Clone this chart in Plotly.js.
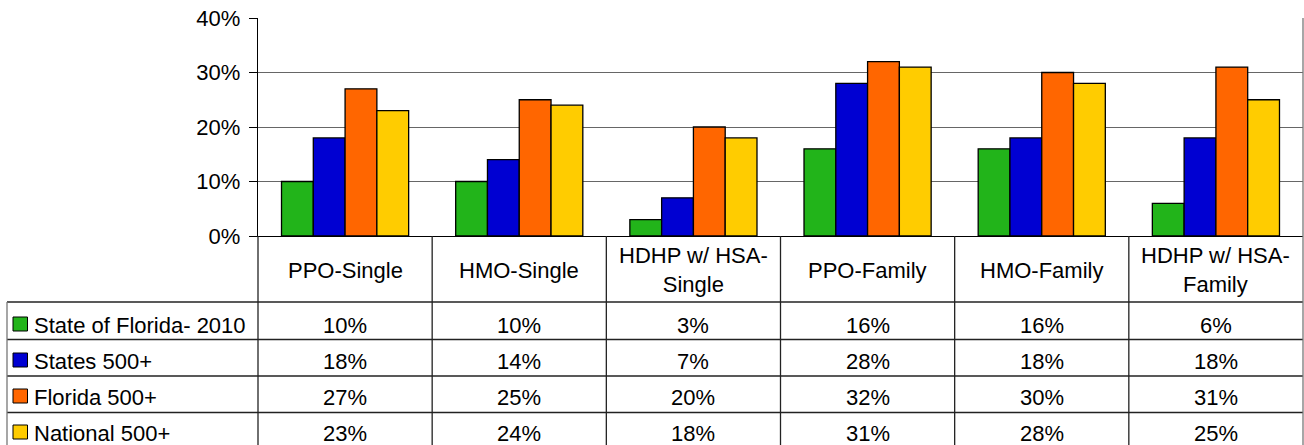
<!DOCTYPE html>
<html>
<head>
<meta charset="utf-8">
<script src="https://cdn.plot.ly/plotly-3.0.1.min.js"></script>
<style>html,body{margin:0;padding:0;background:#fff;}#chart{width:1304px;height:445px;}</style>
</head>
<body>
<div id="chart"></div>
<script>
// ---- data ----
const categories = ['PPO-Single', 'HMO-Single', 'HDHP w/ HSA-<br>Single', 'PPO-Family', 'HMO-Family', 'HDHP w/ HSA-<br>Family'];
const seriesNames = ['State of Florida- 2010', 'States 500+', 'Florida 500+', 'National 500+'];
const stateOfFlorida2010 = [10, 10, 3, 16, 16, 6];
const states500 = [18, 14, 7, 28, 18, 18];
const florida500 = [27, 25, 20, 32, 30, 31];
const national500 = [23, 24, 18, 31, 28, 25];
const yTickValues = [0, 10, 20, 30, 40];
const yTickLabels = ['0%', '10%', '20%', '30%', '40%'];

// ---- style ----
const seriesValues = [stateOfFlorida2010, states500, florida500, national500];
const colors = ['#22B41A', '#0000D2', '#FF6600', '#FFCC00'];
const FONT = 'Liberation Sans, Arial, sans-serif';
const FS = 22;
const W = 1304, H = 445;
const L = 258, R = 1, T = 18, B = 209;
const plotW = W - L - R, plotH = H - T - B;
const px = X => (X - L) / plotW;          // pixel -> paper x
const py = Y => 1 - (Y - T) / plotH;      // pixel -> paper y

const traces = seriesNames.map((name, i) => ({
  type: 'bar',
  name: name,
  x: categories,
  y: seriesValues[i],
  marker: {color: colors[i], line: {color: '#000', width: 1.3}},
  hoverinfo: 'skip'
}));

const shapes = [];
const annotations = [];
const lineC = '#222';
const n = categories.length;
// table row boundaries (pixels)
const headerTop = 236, headerBottom = 302;
const rowLines = [302, 339.5, 376, 412.5];
const rowCenters = [325, 361, 397, 433];
const leftEdge = 7;

// horizontal lines
rowLines.forEach(Y => shapes.push({type: 'line', xref: 'paper', yref: 'paper', x0: px(leftEdge), x1: 1, y0: py(Y), y1: py(Y), line: {color: lineC, width: 1.3}}));
// vertical category dividers
for (let i = 0; i <= n; i++) {
  const top = (i === n) ? T : headerTop;
  shapes.push({type: 'line', xref: 'paper', yref: 'paper', x0: i / n, x1: i / n, y0: py(top), y1: py(H + 2), line: {color: (i === n ? '#777' : lineC), width: 1.3}});
}
// left border of legend column
shapes.push({type: 'line', xref: 'paper', yref: 'paper', x0: px(leftEdge), x1: px(leftEdge), y0: py(headerBottom), y1: py(H + 2), line: {color: '#777', width: 1.3}});

// header labels
categories.forEach((c, i) => annotations.push({
  xref: 'paper', yref: 'paper', x: (i + 0.5) / n, y: py((headerTop + headerBottom) / 2 + 1),
  xanchor: 'center', yanchor: 'middle', text: c, showarrow: false,
  font: {family: FONT, size: FS, color: '#000'}
}));

// data rows with legend
seriesNames.forEach((name, r) => {
  const yc = rowCenters[r];
  shapes.push({type: 'rect', xref: 'paper', yref: 'paper', x0: px(13), x1: px(27.5), y0: py(yc - 8), y1: py(yc + 6), fillcolor: colors[r], line: {color: '#000', width: 1}});
  annotations.push({xref: 'paper', yref: 'paper', x: px(32), y: py(yc), xanchor: 'left', yanchor: 'middle', text: name, showarrow: false, font: {family: FONT, size: FS, color: '#000'}});
  seriesValues[r].forEach((v, i) => annotations.push({
    xref: 'paper', yref: 'paper', x: (i + 0.5) / n, y: py(yc), xanchor: 'center', yanchor: 'middle',
    text: v + '%', showarrow: false, font: {family: FONT, size: FS, color: '#000'}
  }));
});

const layout = {
  width: W, height: H,
  margin: {l: L, r: R, t: T, b: B, pad: 0},
  paper_bgcolor: '#fff', plot_bgcolor: '#fff',
  showlegend: false,
  barmode: 'group', bargap: 0.27, bargroupgap: 0,
  font: {family: FONT, size: FS, color: '#000'},
  xaxis: {type: 'category', range: [-0.5, n - 0.5], showticklabels: false, showgrid: false, zeroline: false,
          showline: true, linecolor: '#000', linewidth: 1.3, ticks: '', fixedrange: true},
  yaxis: {range: [0, 40], tickvals: yTickValues, ticktext: yTickLabels, showgrid: true, gridcolor: '#666', gridwidth: 1,
          zeroline: false, showline: true, linecolor: '#000', linewidth: 1.3, ticks: 'outside', ticklen: 8, tickcolor: '#000',
          ticklabelstandoff: 4,
          tickfont: {family: FONT, size: FS, color: '#000'}, fixedrange: true},
  shapes: shapes,
  annotations: annotations,
  hovermode: false
};

Plotly.newPlot('chart', traces, layout, {staticPlot: true, displayModeBar: false});
</script>
</body>
</html>
